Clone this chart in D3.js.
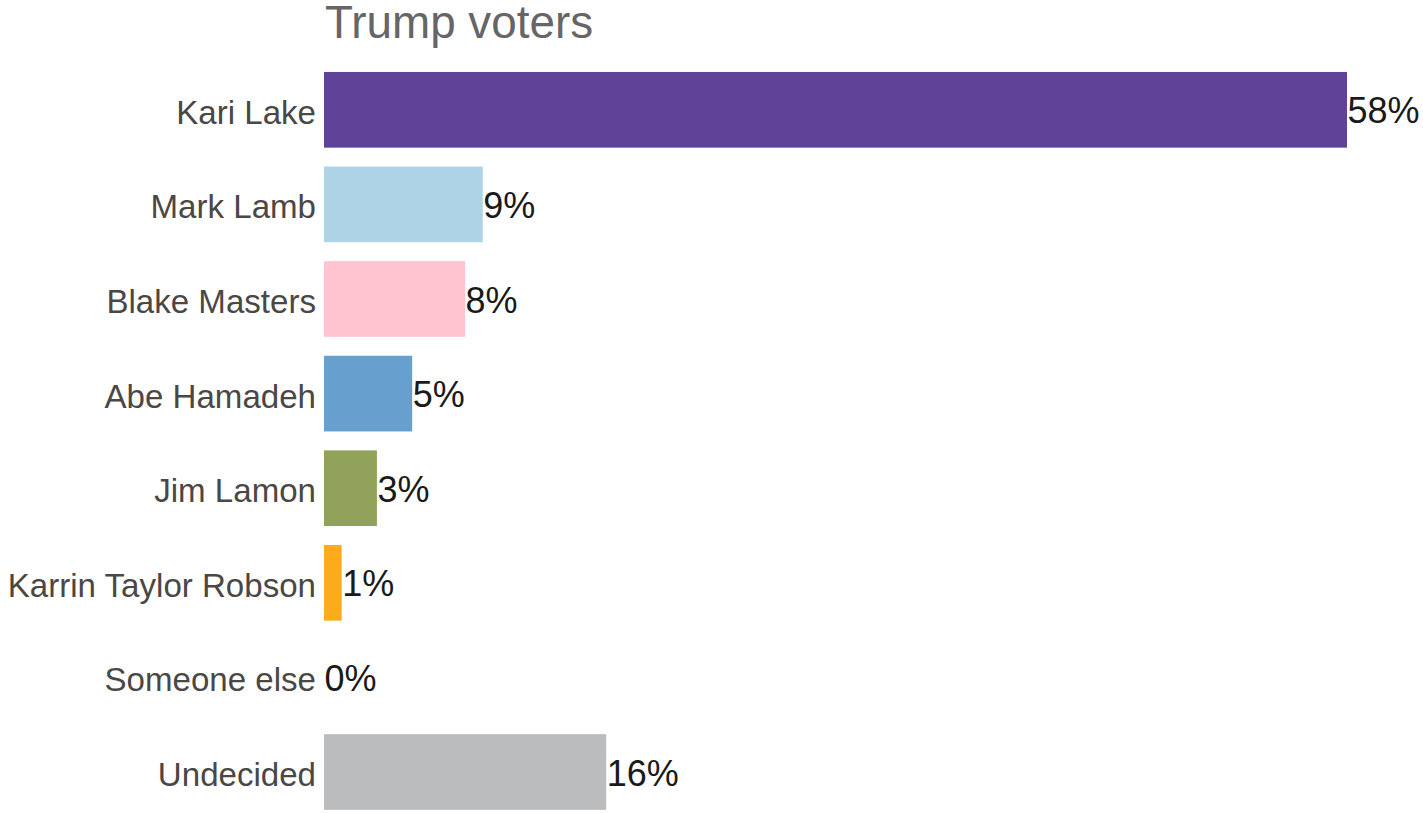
<!DOCTYPE html>
<html><head><meta charset="utf-8">
<script src="https://cdn.jsdelivr.net/npm/d3@7"></script>
<style>body{margin:0;background:#fff;}svg{display:block;}text{font-family:Arial,"Liberation Sans",Helvetica,sans-serif;}</style>
</head><body><svg id="c" width="1423" height="813"></svg>
<script>
const categories = ["Kari Lake","Mark Lamb","Blake Masters","Abe Hamadeh","Jim Lamon","Karrin Taylor Robson","Someone else","Undecided"];
const values = [58, 9, 8, 5, 3, 1, 0, 16];
const colors = ["#5e4399","#aed3e6","#ffc4cf","#679fcf","#91a35b","#fbab1c","#cccccc","#bbbcbe"];
const title = "Trump voters";

const svg = d3.select("#c");
const x = d3.scaleLinear().domain([0, 58]).range([324, 1347]);
const y = d3.scaleBand().domain(categories).range([62.5, 819.3]).paddingInner(0.2).paddingOuter(0.1);

svg.append("text").attr("x", 325).attr("y", 38).attr("fill", "#666666")
  .style("font-size", "45.8px").text(title);

const g = svg.append("g");
g.selectAll("rect").data(categories).join("rect")
  .attr("x", x(0)).attr("y", d => y(d))
  .attr("width", (d, i) => x(values[i]) - x(0))
  .attr("height", y.bandwidth())
  .attr("fill", (d, i) => colors[i]);

g.selectAll("text.cat").data(categories).join("text").attr("class", "cat")
  .attr("x", x(0) - 8).attr("y", d => y(d) + y.bandwidth() / 2)
  .attr("dy", "0.42em").attr("text-anchor", "end")
  .attr("fill", "#4a4745").style("font-size", "33.1px").text(d => d);

g.selectAll("text.val").data(categories).join("text").attr("class", "val")
  .attr("x", (d, i) => x(values[i]) + 0.5).attr("y", d => y(d) + y.bandwidth() / 2)
  .attr("dy", "0.38em").attr("text-anchor", "start")
  .attr("fill", "#1a1a1a").style("font-size", "36px").text((d, i) => values[i] + "%");
</script></body></html>
